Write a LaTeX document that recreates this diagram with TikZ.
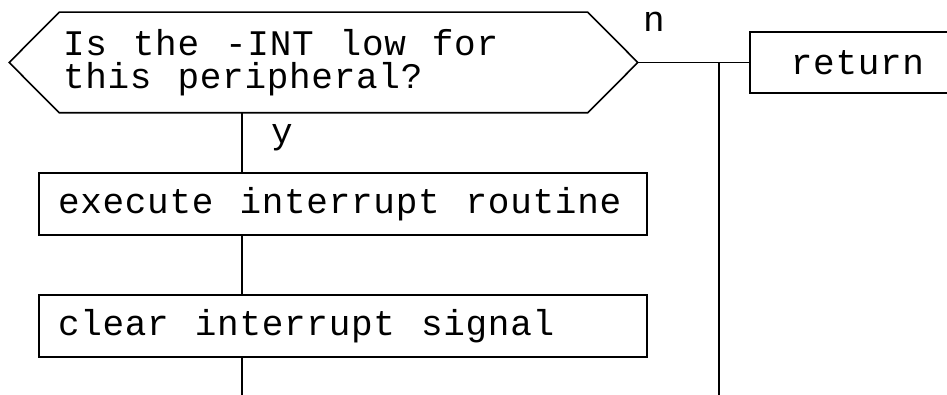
\documentclass[tikz,border=0pt]{standalone}
\usepackage{fontspec}
\setmonofont[LetterSpace=2]{Liberation Mono}
% plotter-style lettering: monospaced, with a wide gap between words
\newcommand\chartfont{\ttfamily\fontsize{36}{33}\selectfont}
\newcommand\wsp{\hspace*{26pt}}
\begin{document}
\begin{tikzpicture}[x=1pt,y=-1pt,
  line width=1.6pt,
  every node/.style={font=\chartfont, inner sep=0pt},
  procbox/.style={draw, rectangle, minimum height=62pt, align=left, inner xsep=19pt},
  flag/.style={anchor=base}]
  \useasboundingbox (0,0) rectangle (947,395);

  % decision: text area of the hexagon, outline drawn from its anchors
  \node (dec) at (323.5,62.5) [minimum width=527pt, minimum height=99pt,
        text width=521pt, align=left, inner xsep=3pt]
        {Is\wsp the\wsp -INT\wsp low\wsp for\\this\wsp peripheral?};
  \coordinate (decL) at ([xshift=-50pt]dec.west);
  \coordinate (decR) at ([xshift=50pt]dec.east);
  \draw (dec.north west) -- (dec.north east) -- (decR) -- (dec.south east)
        -- (dec.south west) -- (decL) -- cycle;

  % process boxes
  \node[procbox, text width=570pt] (exec) at (343,204) {execute\wsp interrupt\wsp routine};
  \node[procbox, text width=570pt] (clr)  at (343,326) {clear\wsp interrupt\wsp signal};
  \node[draw, rectangle, minimum width=215pt, minimum height=61pt] (ret) at (857.5,62.5) {return};

  % branch labels
  \node[flag] (yes) at (282,144) {y};
  \node[flag] (no)  at (654,32) {n};

  % connectors
  \coordinate (spine) at (242,0);
  \coordinate (bot) at (719,400);
  \draw (dec.south -| spine) -- (exec.north -| spine);
  \draw (exec.south -| spine) -- (clr.north -| spine);
  \draw (clr.south -| spine) -- (spine |- bot);
  \draw (decR) -- (ret.west);
  \draw (bot |- decR) -- (bot);
\end{tikzpicture}
\end{document}
